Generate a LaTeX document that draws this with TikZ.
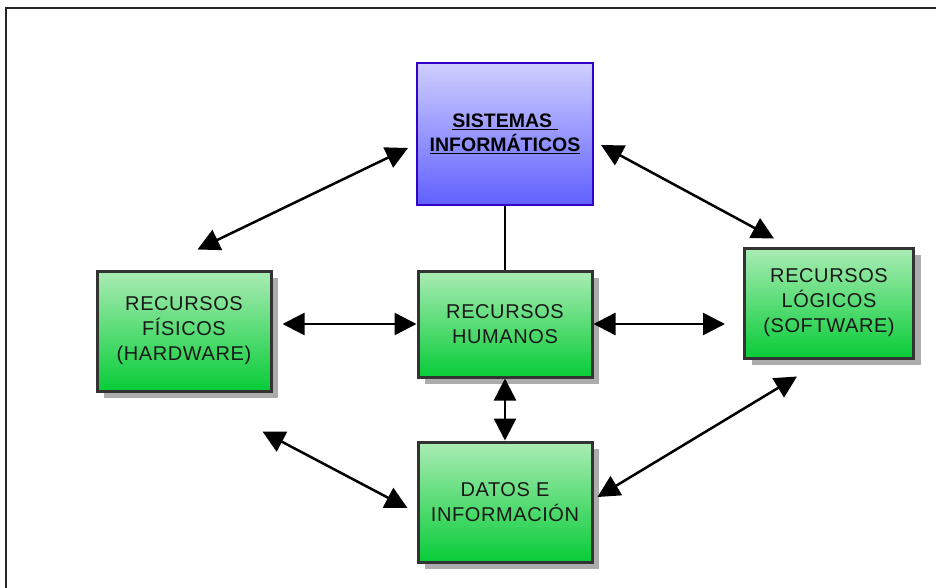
\documentclass[tikz,border=0pt]{standalone}
\usepackage{fontspec}
\setmainfont{Liberation Sans}
\newfontfamily\boxfont[LetterSpace=3]{Liberation Sans}
\usetikzlibrary{arrows.meta,shadows}

\definecolor{boxline}{RGB}{51,51,51}
\definecolor{greentop}{RGB}{170,236,180}
\definecolor{greenbot}{RGB}{8,204,56}
\definecolor{bluetop}{RGB}{206,206,255}
\definecolor{bluebot}{RGB}{96,96,255}
\definecolor{blueline}{RGB}{51,0,204}
\definecolor{shadowgray}{RGB}{172,172,172}

\tikzset{
  resbox/.style={rectangle, draw=boxline, line width=3pt, top color=greentop, bottom color=greenbot,
    align=center, text=black!90, font=\boxfont\fontsize{20}{25}\selectfont,
    drop shadow={shadow xshift=7pt, shadow yshift=-7pt, fill=shadowgray, opacity=1}},
  biarrow/.style={{Triangle[length=22pt,width=22pt]}-{Triangle[length=22pt,width=22pt]}, line width=2.5pt},
}

\begin{document}
\begin{tikzpicture}[x=1pt, y=-1pt, node distance=190pt]
        \useasboundingbox (0,0) rectangle (936,588);
        % Frame
        \draw[line width=2pt, black!85] (6,588) -- (6,8) -- (936,8);

        % Sistemas informaticos
        \node[rectangle, draw=blueline, line width=2pt, top color=bluetop, bottom color=bluebot, minimum width=176pt, minimum height=142pt, align=center, font=\bfseries\fontsize{19.5}{24}\selectfont] (sistemas) at (505,134) {\underline{SISTEMAS\ }\\\underline{INFORMÁTICOS}};

        % Recursos humanos
        \node[resbox, minimum width=174pt, minimum height=106pt, below of=sistemas] (humanos) {RECURSOS\\HUMANOS};

        % Datos
        \node[resbox, minimum width=174pt, minimum height=120pt, below of=humanos, yshift=12pt] (datos) {DATOS E\\INFORMACIÓN};

        % Hardware
        \node[resbox, minimum width=174pt, minimum height=120pt, left of=humanos, xshift=-131pt, yshift=-7pt] (fisicos) {RECURSOS\\FÍSICOS\\(HARDWARE)};

        % Software
        \node[resbox, minimum width=169pt, minimum height=110pt, right of=humanos, xshift=134pt, yshift=21pt] (logicos) {RECURSOS\\LÓGICOS\\(SOFTWARE)};

        % Connections
        \draw[line width=2pt] (sistemas.south) -- (humanos.north);
        \draw[biarrow, shorten <=10pt] (fisicos.east |- humanos.west) -- (humanos.west);
        \draw[biarrow, shorten >=18pt] (humanos.east) -- (humanos.east -| logicos.west);
        \draw[biarrow] (humanos.south) -- (datos.north);
        \draw[biarrow] ([shift={(13.5,-20)}]fisicos.north) -- ([shift={(-8,14)}]sistemas.west);
        \draw[biarrow] ([shift={(7,11)}]sistemas.east) -- ([shift={(-55,-8)}]logicos.north);
        \draw[biarrow] ([shift={(78.5,39)}]fisicos.south) -- ([shift={(-9,6)}]datos.west);
        \draw[biarrow] ([shift={(-32,17)}]logicos.south) -- ([shift={(4,-5)}]datos.east);
\end{tikzpicture}
\end{document}
